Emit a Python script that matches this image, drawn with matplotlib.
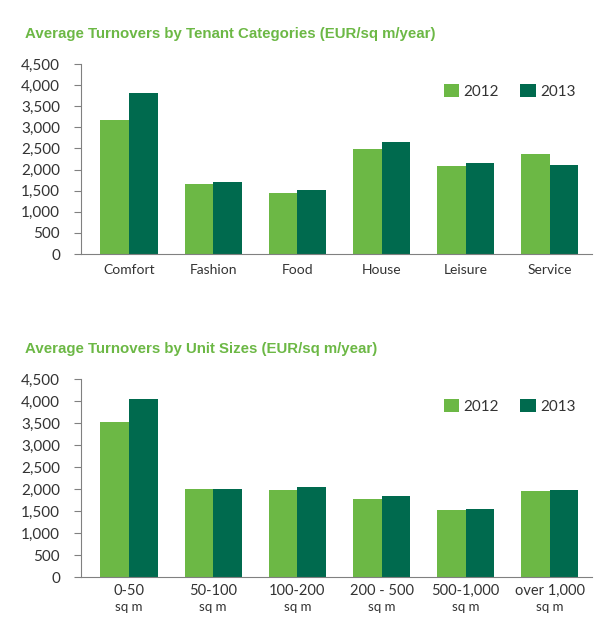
import numpy as np
import matplotlib
matplotlib.use("Agg")
import matplotlib.pyplot as plt
from matplotlib.ticker import FuncFormatter

# data
tenant_cats = ["Comfort", "Fashion", "Food", "House", "Leisure", "Service"]
tenant_2012 = [3170, 1650, 1440, 2490, 2080, 2370]
tenant_2013 = [3810, 1700, 1510, 2650, 2150, 2110]

size_cats = ["0-50", "50-100", "100-200", "200 - 500", "500-1,000", "over 1,000"]
size_unit = "sq m"
size_2012 = [3520, 2000, 1980, 1770, 1520, 1960]
size_2013 = [4040, 2000, 2040, 1840, 1545, 1980]

years = ["2012", "2013"]
light_green = "#6cb845"
dark_green = "#006a4e"
axis_grey = "#808080"
text_col = "#333333"

plt.rcParams['font.family'] = ['Lato', 'DejaVu Sans']

fig = plt.figure(figsize=(6.09, 6.28), dpi=100)


def draw_panel(ax, cats, v12, v13, title, two_line=False):
    x = np.arange(len(cats))
    w = 0.34
    ax.bar(x - w / 2, v12, width=w, color=light_green, label=years[0])
    ax.bar(x + w / 2, v13, width=w, color=dark_green, label=years[1])
    ax.set_ylim(0, 4500)
    ax.set_xlim(-0.57, len(cats) - 0.5)
    ax.set_yticks(np.arange(0, 4501, 500))
    ax.yaxis.set_major_formatter(FuncFormatter(lambda v, p: f"{int(v):,}"))
    for s in ["top", "right"]:
        ax.spines[s].set_visible(False)
    ax.spines["left"].set_color(axis_grey)
    ax.spines["bottom"].set_color(axis_grey)
    ax.tick_params(axis="y", colors=axis_grey, labelcolor=text_col,
                   labelsize=11, length=5, pad=10)
    ax.tick_params(axis="x", length=0, labelcolor=text_col, labelsize=10, pad=7)
    ax.set_xticks(x)
    ax.set_xticklabels(cats)
    if two_line:
        ax.tick_params(axis="x", pad=5, labelsize=10.5)
        for xi in x:
            ax.text(xi, -0.122, size_unit, transform=ax.get_xaxis_transform(),
                    ha="center", va="top", fontsize=9.5, color=text_col)
    leg = ax.legend(ncol=2, frameon=False, loc="upper right",
                    bbox_to_anchor=(0.995, 0.97), handlelength=1.0,
                    handleheight=1.0, handletextpad=0.3, columnspacing=1.4,
                    fontsize=11)
    for t in leg.get_texts():
        t.set_color(text_col)
    fig.text(0.041, ax.get_position().y1 + 0.048, title, fontsize=10.8,
             fontweight="bold", color=light_green,
             family="Liberation Sans", va="center")


ax1 = fig.add_axes([0.133, 0.5955, 0.839, 0.3025])
draw_panel(ax1, tenant_cats, tenant_2012, tenant_2013,
           "Average Turnovers by Tenant Categories (EUR/sq m/year)")

ax2 = fig.add_axes([0.133, 0.0812, 0.839, 0.3153])
draw_panel(ax2, size_cats, size_2012, size_2013,
           "Average Turnovers by Unit Sizes (EUR/sq m/year)", two_line=True)

fig.savefig("out.png", dpi=100)
